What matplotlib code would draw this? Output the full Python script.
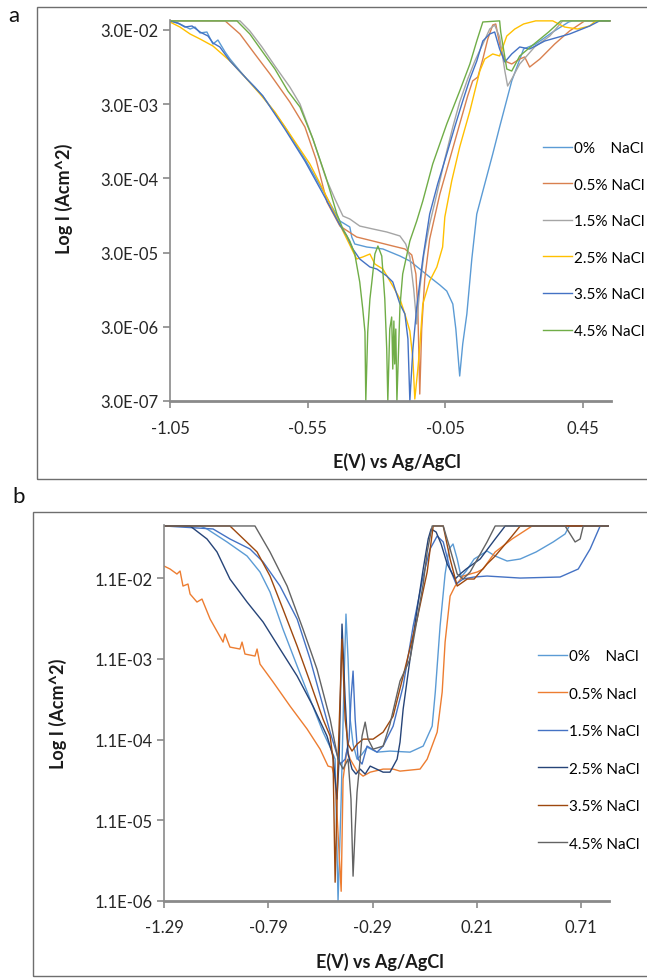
import matplotlib
matplotlib.use('Agg')
import matplotlib.pyplot as plt
import numpy as np
from matplotlib.patches import Rectangle

plt.rcParams['font.family'] = ['Lato', 'DejaVu Sans']

# ---------------- Panel a data (E in V, log10 I) ----------------
a_labels = ['0%    NaCl', '0.5% NaCl', '1.5% NaCl', '2.5% NaCl', '3.5% NaCl', '4.5% NaCl']
a_colors = ['#5B9BD5', '#D9804F', '#A5A5A5', '#FFC000', '#4472C4', '#70AD47']

a0_E = [-1.05, -1.014, -0.977, -0.959, -0.941, -0.916, -0.894, -0.876, -0.850, -0.832,
        -0.796, -0.771, -0.742, -0.713, -0.633, -0.560, -0.498, -0.433, -0.397, -0.390,
        -0.379, -0.335, -0.277, -0.215, -0.179, -0.143, -0.107, -0.070, -0.045, -0.023,
        -0.012, 0.002, 0.013, 0.028, 0.046, 0.064, 0.093, 0.122, 0.147, 0.191,
        0.234, 0.278, 0.340, 0.398, 0.412, 0.547]
a0_L = [-1.40, -1.442, -1.510, -1.483, -1.563, -1.550, -1.712, -1.658, -1.819, -1.914,
        -2.076, -2.183, -2.291, -2.412, -2.830, -3.262, -3.666, -4.097, -4.178, -4.313,
        -4.407, -4.448, -4.474, -4.569, -4.636, -4.744, -4.852, -4.960, -5.041, -5.216,
        -5.553, -6.186, -5.755, -5.350, -4.609, -4.003, -3.598, -3.194, -2.830, -2.210,
        -1.779, -1.712, -1.550, -1.415, -1.40, -1.40]

a05_E = [-1.05, -0.850, -0.796, -0.742, -0.687, -0.615, -0.560, -0.520, -0.480, -0.433,
         -0.372, -0.313, -0.241, -0.197, -0.172, -0.157, -0.150, -0.143, -0.136, -0.125,
         -0.107, -0.070, -0.034, 0.002, 0.031, 0.049, 0.068, 0.086, 0.104, 0.122,
         0.133, 0.147, 0.166, 0.191, 0.220, 0.238, 0.256, 0.293, 0.347, 0.401,
         0.456, 0.547]
a05_L = [-1.40, -1.40, -1.577, -1.846, -2.116, -2.493, -2.830, -3.262, -3.841, -4.165,
         -4.313, -4.367, -4.434, -4.474, -4.555, -4.811, -5.283, -6.429, -5.553, -4.879,
         -4.340, -3.733, -3.262, -2.790, -2.412, -2.210, -2.156, -1.914, -1.644, -1.456,
         -1.442, -1.712, -1.941, -1.981, -1.914, -1.887, -2.022, -1.914, -1.712, -1.536,
         -1.40, -1.40]

a15_E = [-1.05, -0.796, -0.760, -0.716, -0.669, -0.615, -0.578, -0.531, -0.484, -0.451,
         -0.422, -0.397, -0.361, -0.313, -0.263, -0.215, -0.194, -0.179, -0.165, -0.154,
         -0.143, -0.128, -0.107, -0.081, -0.052, -0.023, 0.002, 0.031, 0.057, 0.086,
         0.111, 0.129, 0.147, 0.166, 0.176, 0.191, 0.220, 0.274, 0.329, 0.376,
         0.547]
a15_L = [-1.40, -1.40, -1.536, -1.752, -2.008, -2.291, -2.520, -2.992, -3.518, -3.801,
         -4.030, -4.070, -4.165, -4.205, -4.245, -4.299, -4.407, -4.582, -5.014, -5.485,
         -5.014, -4.542, -4.138, -3.733, -3.262, -2.830, -2.493, -2.183, -1.941, -1.712,
         -1.510, -1.456, -1.617, -2.076, -2.278, -2.183, -1.981, -1.752, -1.604, -1.40,
         -1.40]

a25_E = [-1.05, -1.014, -0.977, -0.941, -0.894, -0.861, -0.832, -0.778, -0.723, -0.669,
         -0.615, -0.542, -0.495, -0.451, -0.422, -0.390, -0.372, -0.350, -0.324, -0.306,
         -0.277, -0.241, -0.215, -0.197, -0.179, -0.168, -0.161, -0.150, -0.143, -0.132,
         -0.107, -0.081, -0.060, -0.052, -0.027, 0.002, 0.039, 0.075, 0.093, 0.122,
         0.147, 0.173, 0.202, 0.234, 0.278, 0.340, 0.383, 0.430, 0.474, 0.496,
         0.547]
a25_L = [-1.415, -1.483, -1.577, -1.644, -1.739, -1.846, -1.941, -2.156, -2.386, -2.628,
         -2.925, -3.329, -3.666, -4.003, -4.232, -4.474, -4.609, -4.582, -4.542, -4.677,
         -4.744, -4.973, -5.148, -5.350, -5.580, -5.957, -6.496, -6.092, -5.795, -5.216,
         -4.906, -4.717, -4.448, -4.043, -3.558, -3.100, -2.615, -2.076, -1.914, -1.846,
         -1.873, -1.604, -1.510, -1.442, -1.40, -1.40, -1.483, -1.510, -1.469, -1.40,
         -1.40]

a35_E = [-1.05, -1.021, -0.996, -0.970, -0.941, -0.912, -0.894, -0.869, -0.832, -0.771,
         -0.713, -0.633, -0.560, -0.498, -0.433, -0.408, -0.386, -0.361, -0.324, -0.299,
         -0.263, -0.241, -0.215, -0.197, -0.186, -0.179, -0.168, -0.154, -0.132, -0.107,
         -0.078, -0.045, -0.016, 0.013, 0.039, 0.064, 0.086, 0.111, 0.129, 0.147,
         0.166, 0.191, 0.220, 0.256, 0.311, 0.401, 0.474, 0.510, 0.547]
a35_L = [-1.40, -1.429, -1.483, -1.469, -1.550, -1.604, -1.698, -1.752, -1.941, -2.183,
         -2.412, -2.857, -3.289, -3.706, -4.151, -4.299, -4.474, -4.609, -4.717, -4.744,
         -4.838, -4.919, -5.216, -5.350, -5.687, -6.523, -5.822, -5.256, -4.609, -4.003,
         -3.598, -3.194, -2.830, -2.480, -2.183, -1.941, -1.671, -1.577, -1.550, -1.779,
         -1.954, -1.846, -1.752, -1.779, -1.671, -1.577, -1.469, -1.40, -1.40]

a45_E = [-1.05, -0.807, -0.760, -0.716, -0.669, -0.622, -0.578, -0.531, -0.484, -0.444,
         -0.422, -0.397, -0.379, -0.361, -0.350, -0.342, -0.339, -0.332, -0.324, -0.317,
         -0.306, -0.295, -0.281, -0.270, -0.263, -0.259, -0.252, -0.245, -0.241, -0.237,
         -0.234, -0.230, -0.226, -0.215, -0.205, -0.179, -0.154, -0.132, -0.096, -0.045,
         0.002, 0.039, 0.064, 0.086, 0.147, 0.151, 0.173, 0.191, 0.220, 0.263,
         0.325, 0.369, 0.547]
a45_L = [-1.40, -1.40, -1.577, -1.806, -2.049, -2.345, -2.561, -2.992, -3.504, -4.003,
         -4.205, -4.367, -4.542, -4.919, -5.283, -5.593, -6.523, -5.593, -5.148, -4.919,
         -4.542, -4.434, -4.569, -5.148, -5.822, -6.523, -5.553, -5.391, -6.092, -5.445,
         -6.024, -5.553, -6.523, -5.256, -4.811, -4.367, -4.097, -3.828, -3.329, -2.790,
         -2.345, -1.981, -1.671, -1.415, -1.40, -1.550, -2.049, -2.076, -1.873, -1.739,
         -1.550, -1.40, -1.40]

a_E = [a0_E, a05_E, a15_E, a25_E, a35_E, a45_E]
a_L = [a0_L, a05_L, a15_L, a25_L, a35_L, a45_L]
a_xticks = [-1.05, -0.55, -0.05, 0.45]
a_xticklabels = ['-1.05', '-0.55', '-0.05', '0.45']
a_yticks = [3e-2, 3e-3, 3e-4, 3e-5, 3e-6, 3e-7]
a_yticklabels = ['3.0E-02', '3.0E-03', '3.0E-04', '3.0E-05', '3.0E-06', '3.0E-07']

# ---------------- Panel b data (E in V, log10 I) ----------------
b_labels = ['0%    NaCl', '0.5% Nacl', '1.5% NaCl', '2.5% NaCl', '3.5% NaCl', '4.5% NaCl']
b_colors = ['#5B9BD5', '#ED7D31', '#4472C4', '#264478', '#9E480E', '#636363']

b0_E = [-1.290, -1.117, -1.084, -0.988, -0.892, -0.830, -0.782, -0.720, -0.652, -0.590,
        -0.528, -0.494, -0.470, -0.456, -0.441, -0.427, -0.418, -0.408, -0.398, -0.384,
        -0.365, -0.341, -0.317, -0.269, -0.207, -0.111, -0.048, -0.005, 0.010, 0.033,
        0.057, 0.076, 0.095, 0.115, 0.134, 0.158, 0.196, 0.258, 0.297, 0.354,
        0.417, 0.493, 0.575, 0.632, 0.652, 0.838]
b0_L = [-1.314, -1.314, -1.351, -1.512, -1.686, -1.884, -2.132, -2.591, -3.049, -3.458,
        -3.867, -4.053, -4.202, -5.961, -4.697, -3.210, -2.405, -2.962, -3.706, -4.016,
        -4.202, -4.140, -4.053, -4.115, -4.102, -4.115, -4.040, -3.793, -3.371, -2.553,
        -1.909, -1.599, -1.537, -1.723, -1.946, -1.872, -1.723, -1.624, -1.686, -1.748,
        -1.723, -1.636, -1.512, -1.413, -1.314, -1.314]

b05_E = [-1.290, -1.261, -1.228, -1.213, -1.199, -1.175, -1.165, -1.132, -1.108, -1.069,
         -1.007, -0.998, -0.974, -0.926, -0.916, -0.902, -0.854, -0.844, -0.830, -0.767,
         -0.686, -0.604, -0.542, -0.504, -0.485, -0.470, -0.441, -0.432, -0.413, -0.398,
         -0.365, -0.336, -0.302, -0.240, -0.192, -0.159, -0.063, -0.029, 0.019, 0.043,
         0.057, 0.081, 0.105, 0.143, 0.211, 0.239, 0.297, 0.378, 0.474, 0.838]
b05_L = [-1.810, -1.847, -1.909, -1.872, -2.058, -2.033, -2.157, -2.256, -2.219, -2.467,
         -2.752, -2.653, -2.814, -2.838, -2.752, -2.900, -2.925, -2.838, -3.024, -3.247,
         -3.545, -3.830, -4.078, -4.288, -4.301, -4.449, -5.838, -4.449, -4.078, -4.202,
         -4.350, -4.412, -4.363, -4.325, -4.325, -4.350, -4.325, -4.202, -3.867, -3.371,
         -2.752, -2.182, -2.058, -1.934, -1.884, -1.847, -1.636, -1.475, -1.314, -1.314]

b15_E = [-1.290, -1.055, -0.974, -0.878, -0.815, -0.734, -0.652, -0.590, -0.528, -0.494,
         -0.466, -0.446, -0.422, -0.403, -0.394, -0.384, -0.374, -0.360, -0.341, -0.317,
         -0.269, -0.240, -0.192, -0.144, -0.096, -0.048, -0.015, 0.019, 0.048, 0.081,
         0.110, 0.143, 0.196, 0.258, 0.417, 0.608, 0.695, 0.752, 0.800, 0.838]
b15_L = [-1.314, -1.351, -1.475, -1.599, -1.760, -2.058, -2.467, -2.962, -3.545, -3.867,
         -4.102, -4.263, -4.202, -3.954, -3.458, -3.111, -3.706, -4.202, -4.263, -4.040,
         -4.115, -4.040, -3.793, -3.297, -2.553, -1.934, -1.599, -1.438, -1.512, -1.847,
         -2.033, -1.971, -1.946, -1.934, -1.959, -1.946, -1.847, -1.599, -1.314, -1.314]

b25_E = [-1.290, -1.165, -1.084, -1.036, -0.974, -0.892, -0.815, -0.734, -0.652, -0.576,
         -0.509, -0.480, -0.461, -0.451, -0.437, -0.422, -0.408, -0.389, -0.370, -0.350,
         -0.326, -0.302, -0.240, -0.207, -0.173, -0.159, -0.144, -0.111, -0.077, -0.048,
         -0.024, -0.010, 0.014, 0.038, 0.067, 0.105, 0.129, 0.158, 0.225, 0.297,
         0.345, 0.838]
b25_L = [-1.314, -1.314, -1.475, -1.636, -1.971, -2.256, -2.504, -2.838, -3.173, -3.545,
         -3.916, -4.164, -4.697, -4.202, -2.529, -3.458, -4.140, -4.325, -4.387, -4.325,
         -4.387, -4.288, -4.363, -4.363, -4.202, -3.991, -3.582, -2.962, -2.343, -1.847,
         -1.475, -1.351, -1.389, -1.537, -1.785, -1.971, -1.909, -1.847, -1.723, -1.475,
         -1.314, -1.314]

b35_E = [-1.290, -0.974, -0.844, -0.782, -0.720, -0.652, -0.590, -0.528, -0.494, -0.480,
         -0.470, -0.456, -0.437, -0.422, -0.408, -0.389, -0.365, -0.336, -0.288, -0.240,
         -0.192, -0.144, -0.077, -0.029, 0.000, 0.048, 0.081, 0.115, 0.163, 0.196,
         0.258, 0.297, 0.378, 0.417, 0.838]
b35_L = [-1.314, -1.314, -1.636, -1.934, -2.343, -2.801, -3.247, -3.706, -3.916, -4.202,
         -5.726, -4.202, -2.715, -3.706, -4.016, -4.102, -4.016, -3.954, -3.954, -3.867,
         -3.669, -3.173, -2.467, -1.884, -1.314, -1.314, -1.723, -2.058, -1.971, -1.971,
         -1.785, -1.686, -1.438, -1.314, -1.314]

b45_E = [-1.290, -0.854, -0.782, -0.700, -0.624, -0.557, -0.494, -0.475, -0.456, -0.432,
         -0.408, -0.394, -0.384, -0.374, -0.365, -0.350, -0.341, -0.326, -0.312, -0.288,
         -0.240, -0.207, -0.159, -0.111, -0.077, -0.048, -0.029, -0.005, 0.048, 0.081,
         0.115, 0.143, 0.177, 0.220, 0.258, 0.297, 0.632, 0.656, 0.680, 0.704,
         0.719, 0.838]
b45_L = [-1.314, -1.314, -1.636, -2.058, -2.591, -3.086, -3.706, -3.954, -4.202, -4.325,
         -4.202, -4.697, -5.651, -5.069, -4.611, -4.202, -3.916, -3.743, -3.954, -4.078,
         -4.040, -3.768, -3.235, -2.962, -2.467, -2.033, -1.636, -1.314, -1.314, -1.599,
         -1.909, -1.971, -1.884, -1.686, -1.512, -1.314, -1.314, -1.413, -1.512, -1.475,
         -1.314, -1.314]

b_E = [b0_E, b05_E, b15_E, b25_E, b35_E, b45_E]
b_L = [b0_L, b05_L, b15_L, b25_L, b35_L, b45_L]
b_xticks = [-1.29, -0.79, -0.29, 0.21, 0.71]
b_xticklabels = ['-1.29', '-0.79', '-0.29', '0.21', '0.71']
b_yticks = [1.1e-2, 1.1e-3, 1.1e-4, 1.1e-5, 1.1e-6]
b_yticklabels = ['1.1E-02', '1.1E-03', '1.1E-04', '1.1E-05', '1.1E-06']

# ---------------- Figure ----------------
W, H = 647, 979
fig = plt.figure(figsize=(W / 100, H / 100), dpi=100)


def fx(px):
    return px / W


def fy(py):
    return 1 - py / H


# panel frames
fig.patches.append(Rectangle((fx(37), fy(480)), 1.0, (480 - 8) / H,
                             transform=fig.transFigure, fill=False,
                             ec='#6e6e6e', lw=1.0))
fig.patches.append(Rectangle((fx(33), fy(977)), 1.0, (977 - 513) / H,
                             transform=fig.transFigure, fill=False,
                             ec='#6e6e6e', lw=1.0))

fig.text(fx(8), fy(16), 'a', fontsize=16, va='center', ha='left', color='#111111')
fig.text(fx(12), fy(497), 'b', fontsize=16, va='center', ha='left', color='#111111')

spine_col = '#8a8a8a'
tick_col = '#262626'


def style_axes(ax, xticks, xlabels, yticks, ylabels, xpad):
    ax.set_yscale('log')
    ax.minorticks_off()
    ax.set_xticks(xticks)
    ax.set_xticklabels(xlabels)
    ax.set_yticks(yticks)
    ax.set_yticklabels(ylabels)
    for s in ['top', 'right']:
        ax.spines[s].set_visible(False)
    ax.spines['left'].set_color(spine_col)
    ax.spines['left'].set_linewidth(1.2)
    ax.spines['bottom'].set_color(spine_col)
    ax.spines['bottom'].set_linewidth(2.0)
    ax.tick_params(axis='x', direction='out', length=5, width=1.2, color=spine_col,
                   labelsize=12, labelcolor=tick_col, pad=xpad)
    ax.tick_params(axis='y', direction='out', length=5, width=1.2, color=spine_col,
                   labelsize=12, labelcolor=tick_col, pad=3)
    ax.patch.set_alpha(0)


# ---- panel a ----
axa = fig.add_axes([fx(170), fy(402), (610.6 - 170) / W, (402 - 21) / H])
for E, L, c, lab in zip(a_E, a_L, a_colors, a_labels):
    axa.plot(E, 10 ** np.array(L), color=c, lw=1.0, label=lab)
axa.set_xlim(-1.05, 0.55)
axa.set_ylim(3e-7, 0.0409)
style_axes(axa, a_xticks, a_xticklabels, a_yticks, a_yticklabels, 9)
axa.set_xlabel('E(V) vs Ag/AgCl', fontsize=13, fontweight='bold', color='#1a1a1a')
axa.xaxis.set_label_coords(0.514, -0.158)
axa.xaxis.label.set_verticalalignment('center')
axa.set_ylabel('Log I (Acm^2)', fontsize=13, fontweight='bold', color='#1a1a1a')
axa.yaxis.set_label_coords(-0.24, 0.532)
axa.yaxis.label.set_verticalalignment('center')
axa.legend(loc='upper left', bbox_to_anchor=(fx(543), fy(142)),
           bbox_transform=fig.transFigure, frameon=False, fontsize=11,
           handlelength=1.9, handletextpad=0.1, labelspacing=1.48,
           borderpad=0, borderaxespad=0)

# ---- panel b ----
axb = fig.add_axes([fx(164), fy(902), (608.5 - 164) / W, (902 - 526) / H])
for E, L, c, lab in zip(b_E, b_L, b_colors, b_labels):
    axb.plot(E, 10 ** np.array(L), color=c, lw=1.0, label=lab)
axb.set_xlim(-1.29, 0.84)
axb.set_ylim(1.1e-6, 0.0499)
style_axes(axb, b_xticks, b_xticklabels, b_yticks, b_yticklabels, 8)
axb.set_xlabel('E(V) vs Ag/AgCl', fontsize=13, fontweight='bold', color='#1a1a1a')
axb.xaxis.set_label_coords(0.486, -0.16)
axb.xaxis.label.set_verticalalignment('center')
axb.set_ylabel('Log I (Acm^2)', fontsize=13, fontweight='bold', color='#1a1a1a')
axb.yaxis.set_label_coords(-0.238, 0.5)
axb.yaxis.label.set_verticalalignment('center')
axb.legend(loc='upper left', bbox_to_anchor=(fx(538), fy(650)),
           bbox_transform=fig.transFigure, frameon=False, fontsize=11,
           handlelength=1.9, handletextpad=0.1, labelspacing=1.54,
           borderpad=0, borderaxespad=0)

fig.savefig('out.png', dpi=100)
